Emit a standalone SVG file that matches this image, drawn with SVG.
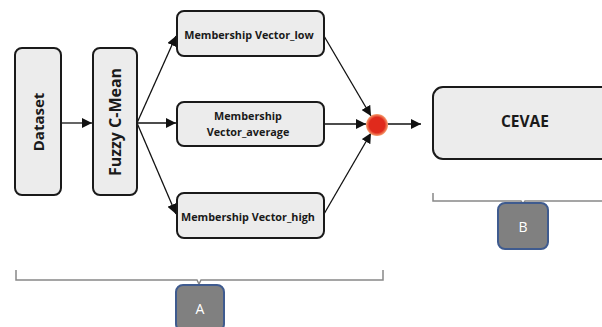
<svg xmlns="http://www.w3.org/2000/svg" width="602" height="327" viewBox="0 0 602 327">
<defs>
<marker id="ah" viewBox="0 0 10 10" refX="10" refY="5" markerWidth="10" markerHeight="10" markerUnits="userSpaceOnUse" orient="auto">
<path d="M0,0 L10,5 L0,10 z" fill="#111"/>
</marker>
<radialGradient id="glow" cx="0.5" cy="0.5" r="0.5">
<stop offset="0.7" stop-color="#e02a1c"/>
<stop offset="1" stop-color="#f7a070"/>
</radialGradient>
</defs>
<style>
.box{fill:#ececec;stroke:#1a1a1a;stroke-width:2}
.t{font-family:"Open Sans","Liberation Sans",sans-serif;font-weight:bold;fill:#1a1a1a;text-anchor:middle}
.m{font-size:10.8px}
.c{stroke:#111;stroke-width:1.3;fill:none;marker-end:url(#ah)}
.br{stroke:#888;stroke-width:1.5;fill:none}
.lab{fill:#808080;stroke:#3f5b8f;stroke-width:2}
.lt{font-family:"Open Sans","Liberation Sans",sans-serif;fill:#fff;text-anchor:middle;font-size:14px}
</style>
<rect width="602" height="327" fill="#fff"/>
<g id="connectors">
<line class="c" x1="61" y1="123" x2="92" y2="123"/>
<line class="c" x1="137" y1="123" x2="176" y2="36"/>
<line class="c" x1="137" y1="123" x2="176" y2="123"/>
<line class="c" x1="137" y1="123" x2="176" y2="214"/>
<line class="c" x1="324" y1="36" x2="371" y2="116"/>
<line class="c" x1="324" y1="124" x2="366" y2="124"/>
<line class="c" x1="324" y1="214" x2="371" y2="133"/>
<line class="c" x1="387" y1="124" x2="421" y2="124"/>
</g>
<g id="dataset">
<rect class="box" x="15" y="48" width="46" height="147" rx="7"/>
<text class="t" font-size="15" transform="translate(43.5,122) rotate(-90)">Dataset</text>
</g>
<g id="fuzzy">
<rect class="box" x="93" y="48" width="44" height="147" rx="7"/>
<text class="t" font-size="16" transform="translate(121,122) rotate(-90)">Fuzzy C-Mean</text>
</g>
<g id="mv_low">
<rect class="box" x="177" y="11" width="147" height="45" rx="7"/>
<text class="t m" x="249" y="39">Membership Vector_low</text>
</g>
<g id="mv_avg">
<rect class="box" x="177" y="102" width="147" height="44" rx="7"/>
<text class="t m" x="248" y="120">Membership</text>
<text class="t m" x="248" y="136">Vector_average</text>
</g>
<g id="mv_high">
<rect class="box" x="177" y="193" width="147" height="45" rx="7"/>
<text class="t m" x="248" y="221">Membership Vector_high</text>
</g>
<g id="join">
<circle cx="377" cy="125" r="11" fill="url(#glow)"/>
</g>
<g id="cevae">
<rect class="box" x="433" y="87" width="180" height="72" rx="10"/>
<text class="t" font-size="15.5" x="525" y="127">CEVAE</text>
</g>
<g id="group_a">
<path class="br" d="M16,270 V280 H197 L199,284 L201,280 H383 V270"/>
<rect class="lab" x="176" y="285" width="48" height="46" rx="7"/>
<text class="lt" x="200" y="314">A</text>
</g>
<g id="group_b">
<path class="br" d="M433,193 V201 H521 L523,204 L525,201 H602"/>
<rect class="lab" x="498" y="203" width="50" height="46" rx="7"/>
<text class="lt" x="523" y="232">B</text>
</g>
</svg>
